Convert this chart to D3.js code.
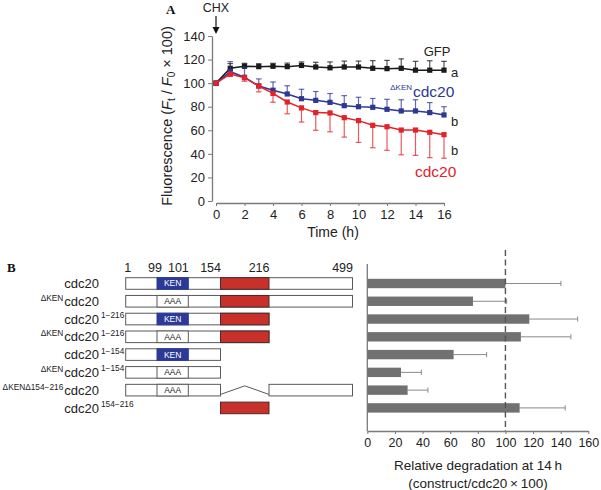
<!DOCTYPE html>
<html><head><meta charset="utf-8">
<script src="https://cdn.jsdelivr.net/npm/d3@7"></script>
<style>body{margin:0;background:#fff}svg{display:block;font-family:"Liberation Sans",Arial,sans-serif}</style>
</head><body><svg id="c" width="601" height="490"></svg>
<script>
// ---------- Panel A data ----------
const hours = [0,1,2,3,4,5,6,7,8,9,10,11,12,13,14,15,16];
const timeTicks = [0,2,4,6,8,10,12,14,16];
const fluorTicks = [0,20,40,60,80,100,120,140];
const gfp     = [100,112.6,114.3,114,114.3,114,115,113.7,113,113.7,113.7,112.6,112.3,112.6,111,111,111];
const gfpErr  = [0,4,2.5,2.5,2.5,3,3,4,5,5,5,6.5,7,8,7.5,8,7.5];
const dken    = [100,109.7,105,97.6,94,90.8,86.8,85.4,83.7,80.9,80,79.5,77.8,76.4,76.4,75,73];
const dkenErr = [0,8.5,8.5,6,7,7,8,7.5,7.5,8.5,8,7.5,8.5,9.5,9.5,8.5,7];
const cdc     = [100,107.7,104.6,97.6,91.3,84,79,75,74.7,70.7,68.2,64.2,63,60.2,60.2,58.3,56.3];
const cdcErr  = [0,2,3,5,7.5,10,12,15,16,16.5,18.5,19,20,21,21.5,21.5,20];

// ---------- Panel B data ----------
const residues = [1,99,101,154,216,499];
const labelPrefix = ['', 'ΔKEN', '', 'ΔKEN', '', 'ΔKEN', 'ΔKENΔ154−216', ''];
const labelMain   = ['cdc20','cdc20','cdc20','cdc20','cdc20','cdc20','cdc20','cdc20'];
const labelSuffix = ['', '', '1−216', '1−216', '1−154', '1−154', '', '154−216'];
const spans = [[[1,499]],[[1,499]],[[1,216]],[[1,216]],[[1,154]],[[1,154]],[[1,154],[216,499]],[]];
const motif = ['KEN','AAA','KEN','AAA','KEN','AAA','AAA',null];
const dbox  = [true,true,true,true,false,false,false,true];
const deletion = [null,null,null,null,null,null,[154,216],null];
const degradation = [100,76.5,117.3,111.2,62.5,24.4,29.2,110.3];
const degErr      = [40.2,24.4,35,36.2,23.9,14.7,14.7,33];
const degTicks = [0,20,40,60,80,100,120,140,160];

const svg = d3.select('#c');
const axisCol = '#7a7a7a', txt = '#222';
const RED = '#e1232a', BLUE = '#2d3794', BLK = '#1a1a1a';

// ================= Panel A =================
const x = d3.scaleLinear().domain([0,16]).range([216,444]);
const y = d3.scaleLinear().domain([0,140]).range([201,36]);

const gA = svg.append('g');
const yAx = gA.append('g').attr('transform','translate(212,0)')
  .call(d3.axisLeft(y).tickValues(fluorTicks).tickSize(4).tickSizeOuter(0).tickPadding(3));
const xAx = gA.append('g').attr('transform','translate(0,203)')
  .call(d3.axisBottom(x).tickValues(timeTicks).tickSize(3).tickSizeOuter(0).tickPadding(4));
[yAx,xAx].forEach(a=>{
  a.select('.domain').attr('stroke',axisCol).attr('stroke-width',1.3);
  a.selectAll('.tick line').attr('stroke',axisCol);
  a.selectAll('text').attr('fill',txt).style('font-size','13px').style('font-family','Liberation Sans, Arial, sans-serif');
});

gA.append('text').attr('x',333).attr('y',237).attr('text-anchor','middle')
  .attr('fill',txt).style('font-size','14px').text('Time (h)');

const yl = gA.append('text').attr('transform','translate(172,116) rotate(-90)')
  .attr('text-anchor','middle').attr('fill',txt).style('font-size','14.5px');
yl.append('tspan').text('Fluorescence (');
yl.append('tspan').attr('font-style','italic').text('F');
yl.append('tspan').attr('dy',3).style('font-size','10px').text('t');
yl.append('tspan').attr('dy',-3).text(' / ');
yl.append('tspan').attr('font-style','italic').text('F');
yl.append('tspan').attr('dy',3).style('font-size','10px').text('0');
yl.append('tspan').attr('dy',-3).text(' × 100)');

gA.append('text').attr('x',166).attr('y',14).attr('fill','#111')
  .style('font-family','Liberation Serif, serif').style('font-weight','bold').style('font-size','13px').text('A');
gA.append('text').attr('x',216).attr('y',12).attr('text-anchor','middle').attr('fill',txt)
  .style('font-size','12.5px').text('CHX');
gA.append('line').attr('x1',216).attr('x2',216).attr('y1',16).attr('y2',30).attr('stroke','#111').attr('stroke-width',1.2);
gA.append('path').attr('d','M212.5,27 L216,34 L219.5,27 Z').attr('fill','#111');

function series(vals, errs, color, dir){
  const g = gA.append('g');
  hours.forEach((h,i)=>{
    if(!errs[i]) return;
    const v = vals[i], e = v + dir*errs[i];
    g.append('line').attr('x1',x(h)).attr('x2',x(h)).attr('y1',y(v)).attr('y2',y(e))
      .attr('stroke',color).attr('stroke-opacity',0.75).attr('stroke-width',1.2);
    g.append('line').attr('x1',x(h)-2.8).attr('x2',x(h)+2.8).attr('y1',y(e)).attr('y2',y(e))
      .attr('stroke',color).attr('stroke-opacity',0.75).attr('stroke-width',1.2);
  });
  g.append('path').datum(vals).attr('fill','none').attr('stroke',color).attr('stroke-width',1.5)
    .attr('d', d3.line().x((d,i)=>x(hours[i])).y(d=>y(d)));
  g.selectAll('rect').data(vals).join('rect')
    .attr('x',(d,i)=>x(hours[i])-2.6).attr('y',d=>y(d)-2.6).attr('width',5.2).attr('height',5.2).attr('fill',color);
}
series(gfp, gfpErr, BLK, 1);
series(dken, dkenErr, BLUE, 1);
series(cdc, cdcErr, RED, -1);

gA.append('text').attr('x',437).attr('y',56).attr('text-anchor','middle').attr('fill',txt).style('font-size','13px').text('GFP');
gA.append('text').attr('x',451).attr('y',77).attr('fill',txt).style('font-size','13px').text('a');
gA.append('text').attr('x',451).attr('y',126).attr('fill',txt).style('font-size','13px').text('b');
gA.append('text').attr('x',451).attr('y',155).attr('fill',txt).style('font-size','13px').text('b');
gA.append('text').attr('x',412).attr('y',89.5).attr('text-anchor','end').attr('fill',BLUE).style('font-size','8px').text('ΔKEN');
gA.append('text').attr('x',413).attr('y',96.5).attr('fill',BLUE).style('font-size','15.5px').text('cdc20');
gA.append('text').attr('x',415).attr('y',176.5).attr('fill',RED).style('font-size','15.5px').text('cdc20');

// ================= Panel B =================
const gB = svg.append('g');
gB.append('text').attr('x',7).attr('y',272).attr('fill','#111')
  .style('font-family','Liberation Serif, serif').style('font-weight','bold').style('font-size','13px').text('B');

const r = d3.scaleLinear().domain(residues).range([125.7,157,188.3,220.5,269,352.5]);
const rows = d3.scaleBand().domain(d3.range(labelMain.length)).range([274.6,416.8]);
const boxH = 11.6, barH = 9.4;

residues.forEach((res,i)=>{
  gB.append('text').attr('x', i===0 ? r(res)-1.5 : (i===1 ? r(res)+5 : r(res)+0.5))
    .attr('y',272).attr('text-anchor', i===0 ? 'start':'end').attr('fill',txt)
    .style('font-size','12.5px').text(res);
});

const stroke = '#5a5a5a';
labelMain.forEach((m,i)=>{
  const cy = rows(i) + rows.bandwidth()/2;
  const top = cy - boxH/2;
  const mt = gB.append('text').attr('x',99).attr('y',cy+4.6).attr('text-anchor','end').attr('fill',txt)
    .style('font-size','13px').text(m);
  const w = mt.node().getComputedTextLength();
  if(labelPrefix[i]){
    const pt = gB.append('text').attr('x',99-w-1).attr('y',cy-0.5).attr('text-anchor','end')
      .attr('fill',txt).style('font-size','8.3px').text(labelPrefix[i]);
    const pw = pt.node().getComputedTextLength();
    if(99-w-1-pw < 0.5) pt.attr('x', pw+0.5);
  }
  if(labelSuffix[i]) gB.append('text').attr('x',101).attr('y',cy-1).attr('fill',txt)
    .style('font-size','8.3px').text(labelSuffix[i]);
  spans[i].forEach(s=>{
    gB.append('rect').attr('x',r(s[0])).attr('y',top).attr('width',r(s[1])-r(s[0])).attr('height',boxH)
      .attr('fill','#fff').attr('stroke',stroke).attr('stroke-width',1);
  });
  if(deletion[i]){
    const a = r(deletion[i][0]), b = r(deletion[i][1]);
    gB.append('path').attr('d',`M${a},${top+boxH-1.5} L${(a+b)/2},${top+1.5} L${b},${top+boxH-1.5}`)
      .attr('fill','none').attr('stroke',stroke).attr('stroke-width',1);
  }
  if(motif[i]){
    const ken = motif[i]==='KEN';
    gB.append('rect').attr('x',r(99)).attr('y',top).attr('width',r(101)-r(99)).attr('height',boxH)
      .attr('fill', ken ? '#2b3a96' : '#fff').attr('stroke', ken ? '#2b3a96' : stroke).attr('stroke-width',1);
    gB.append('text').attr('x',(r(99)+r(101))/2).attr('y',cy+3).attr('text-anchor','middle')
      .attr('fill', ken ? '#fff' : txt).style('font-size','8.5px').text(motif[i]);
  }
  if(dbox[i]){
    gB.append('rect').attr('x',r(154)).attr('y',top).attr('width',r(216)-r(154)).attr('height',boxH)
      .attr('fill','#c8302a').attr('stroke','#4a2a2a').attr('stroke-width',1);
  }
});

// bar chart
const xb = d3.scaleLinear().domain([0,160]).range([367.3,588.3]);
gB.append('line').attr('x1',367.3).attr('x2',367.3).attr('y1',264).attr('y2',431).attr('stroke',axisCol).attr('stroke-width',1.3);
const xbAx = gB.append('g').attr('transform','translate(0,431)')
  .call(d3.axisBottom(xb).tickValues(degTicks).tickSize(3).tickSizeOuter(0).tickPadding(4));
xbAx.select('.domain').attr('stroke',axisCol).attr('stroke-width',1.3);
xbAx.selectAll('.tick line').attr('stroke',axisCol);
xbAx.selectAll('text').attr('fill',txt).style('font-size','12.5px').style('font-family','Liberation Sans, Arial, sans-serif');

degradation.forEach((v,i)=>{
  const cy = rows(i) + rows.bandwidth()/2;
  gB.append('line').attr('x1',xb(v)).attr('x2',xb(v+degErr[i])).attr('y1',cy).attr('y2',cy)
    .attr('stroke','#8a8a8a').attr('stroke-width',1);
  gB.append('line').attr('x1',xb(v+degErr[i])).attr('x2',xb(v+degErr[i])).attr('y1',cy-2.6).attr('y2',cy+2.6)
    .attr('stroke','#8a8a8a').attr('stroke-width',1);
});
gB.selectAll('rect.bar').data(degradation).join('rect').attr('class','bar')
  .attr('x',xb(0)).attr('y',(d,i)=>rows(i)+rows.bandwidth()/2-barH/2)
  .attr('width',d=>xb(d)-xb(0)).attr('height',barH).attr('fill','#717171');
gB.append('line').attr('x1',xb(100)).attr('x2',xb(100)).attr('y1',250).attr('y2',431)
  .attr('stroke','#555').attr('stroke-width',1.4).attr('stroke-dasharray','6,3.5');

gB.append('text').attr('x',478).attr('y',470).attr('text-anchor','middle').attr('fill',txt)
  .style('font-size','13.5px').text('Relative degradation at 14\u2009h');
gB.append('text').attr('x',478).attr('y',488).attr('text-anchor','middle').attr('fill',txt)
  .style('font-size','13.5px').text('(construct/cdc20\u2009×\u2009100)');
</script></body></html>
